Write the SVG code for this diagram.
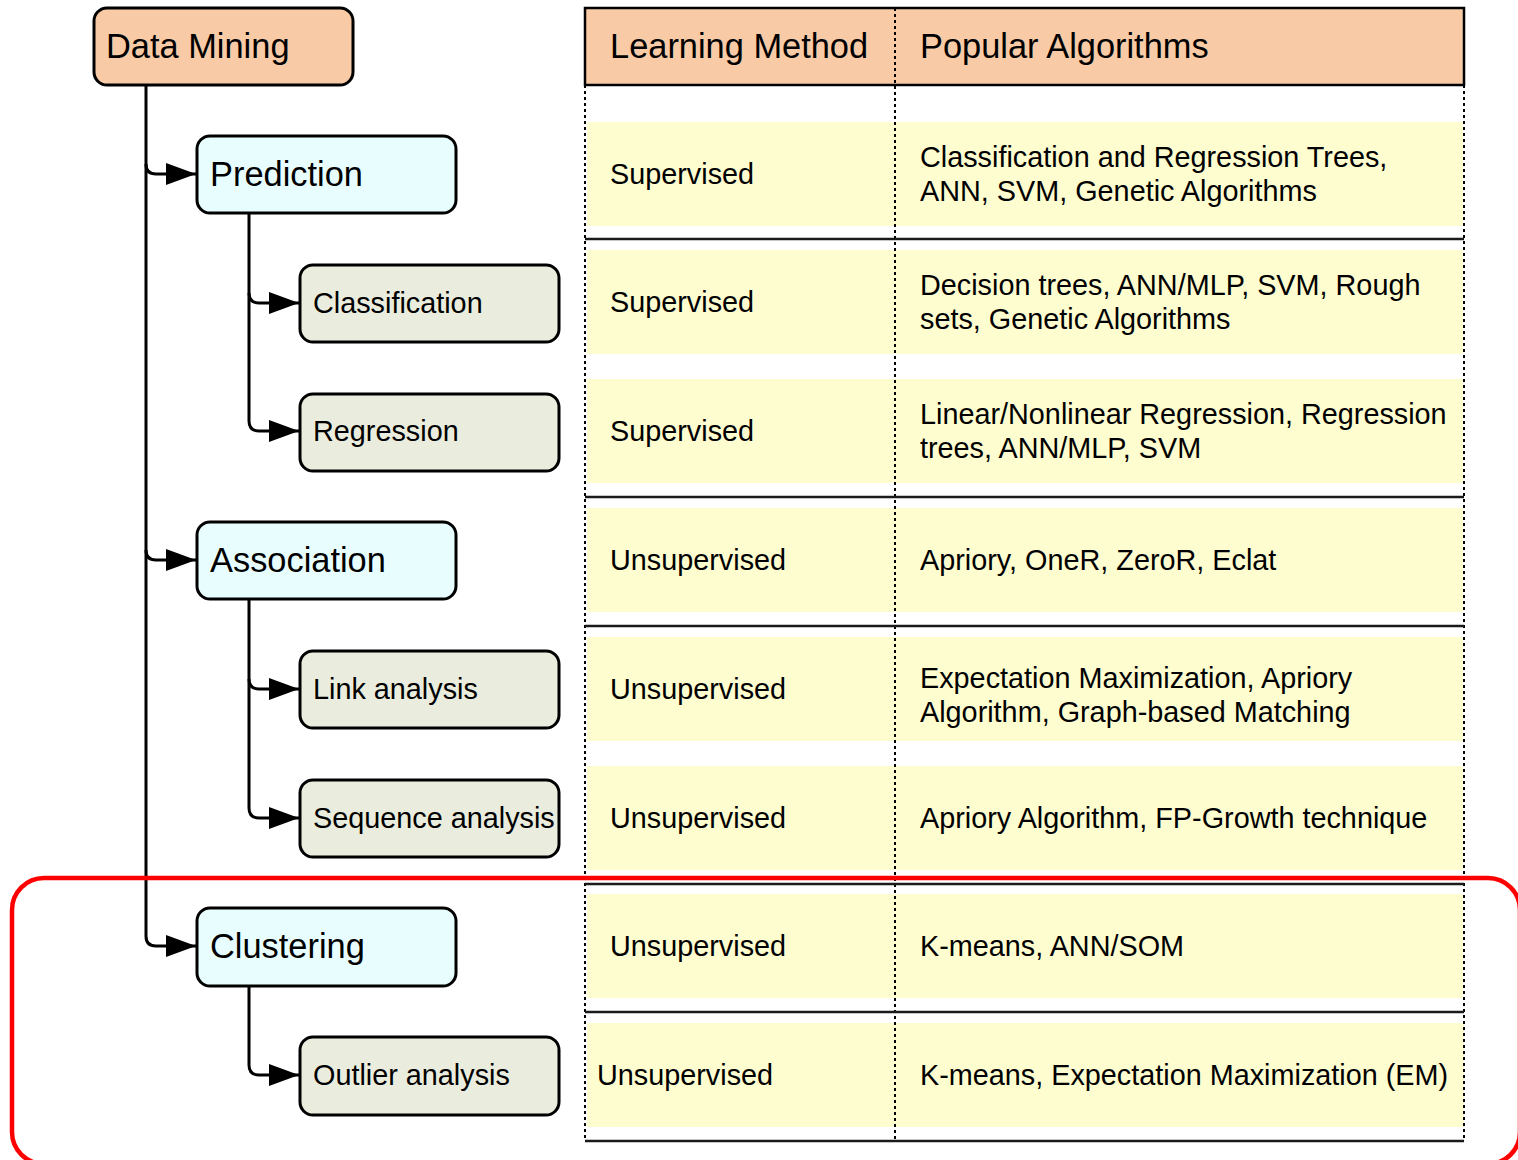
<svg xmlns="http://www.w3.org/2000/svg" width="1518" height="1160" viewBox="0 0 1518 1160">
<style>
text{font-family:"Liberation Sans",Arial,sans-serif;fill:#000}
.big{font-size:34.4px}
.mid{font-size:28.8px}
.node{stroke:#000;stroke-width:3}
.root{fill:#f8cba6}
.l1{fill:#e8fefe}
.l2{fill:#eaeddd}
.conn{fill:none;stroke:#000;stroke-width:3}
.band{fill:#fefdd0}
.dot{stroke:#000;stroke-width:2;stroke-dasharray:3 3;fill:none}
.hl{stroke:#1a1a1a;stroke-width:2.5}
</style>
<defs>
<marker id="arr" markerUnits="userSpaceOnUse" markerWidth="32" markerHeight="24" refX="30" refY="11" orient="auto">
<path d="M0,0 L30,11 L0,22 z" fill="#000"/>
</marker>
</defs>
<rect width="1518" height="1160" fill="#fff"/>

<g id="table">
<rect x="585" y="8" width="879" height="77" fill="#f8cba6" stroke="#000" stroke-width="2.5"/>
<g id="bands">
<rect class="band" x="587" y="122" width="876" height="104"/>
<rect class="band" x="587" y="250" width="876" height="104"/>
<rect class="band" x="587" y="379" width="876" height="104"/>
<rect class="band" x="587" y="508" width="876" height="104"/>
<rect class="band" x="587" y="637" width="876" height="104"/>
<rect class="band" x="587" y="766" width="876" height="104"/>
<rect class="band" x="587" y="894" width="876" height="104"/>
<rect class="band" x="587" y="1023" width="877" height="104"/>
</g>
<line class="dot" x1="585" y1="85" x2="585" y2="1141"/>
<line class="dot" x1="895" y1="8" x2="895" y2="1141"/>
<line class="dot" x1="1464" y1="85" x2="1464" y2="1141"/>
<line class="hl" x1="585" y1="239" x2="1464" y2="239"/>
<line class="hl" x1="585" y1="497" x2="1464" y2="497"/>
<line class="hl" x1="585" y1="626" x2="1464" y2="626"/>
<line class="hl" x1="585" y1="884" x2="1464" y2="884"/>
<line class="hl" x1="585" y1="1012" x2="1464" y2="1012"/>
<line class="hl" x1="585" y1="1141" x2="1464" y2="1141"/>
<text class="big" x="610" y="58">Learning Method</text>
<text class="big" x="920" y="58">Popular Algorithms</text>

<text class="mid" x="610" y="184">Supervised</text>
<text class="mid" x="920" y="167">Classification and Regression Trees,</text>
<text class="mid" x="920" y="201">ANN, SVM, Genetic Algorithms</text>

<text class="mid" x="610" y="312">Supervised</text>
<text class="mid" x="920" y="295">Decision trees, ANN/MLP, SVM, Rough</text>
<text class="mid" x="920" y="329">sets, Genetic Algorithms</text>

<text class="mid" x="610" y="441">Supervised</text>
<text class="mid" x="920" y="424">Linear/Nonlinear Regression, Regression</text>
<text class="mid" x="920" y="458">trees, ANN/MLP, SVM</text>

<text class="mid" x="610" y="570">Unsupervised</text>
<text class="mid" x="920" y="570">Apriory, OneR, ZeroR, Eclat</text>

<text class="mid" x="610" y="699">Unsupervised</text>
<text class="mid" x="920" y="688">Expectation Maximization, Apriory</text>
<text class="mid" x="920" y="722">Algorithm, Graph-based Matching</text>

<text class="mid" x="610" y="828">Unsupervised</text>
<text class="mid" x="920" y="828">Apriory Algorithm, FP-Growth technique</text>

<text class="mid" x="610" y="956">Unsupervised</text>
<text class="mid" x="920" y="956">K-means, ANN/SOM</text>

<text class="mid" x="597" y="1085">Unsupervised</text>
<text class="mid" x="920" y="1085">K-means, Expectation Maximization (EM)</text>
</g>

<g id="connectors">
<path class="conn" d="M146,85 V936 Q146,946 156,946 H196" marker-end="url(#arr)"/>
<path class="conn" d="M146,164 Q146,174 156,174 H196" marker-end="url(#arr)"/>
<path class="conn" d="M146,550 Q146,560 156,560 H196" marker-end="url(#arr)"/>
<path class="conn" d="M249,213 V421 Q249,431 259,431 H299" marker-end="url(#arr)"/>
<path class="conn" d="M249,293 Q249,303 259,303 H299" marker-end="url(#arr)"/>
<path class="conn" d="M249,599 V808 Q249,818 259,818 H299" marker-end="url(#arr)"/>
<path class="conn" d="M249,679 Q249,689 259,689 H299" marker-end="url(#arr)"/>
<path class="conn" d="M249,985 V1065 Q249,1075 259,1075 H299" marker-end="url(#arr)"/>
</g>

<g id="n-datamining"><rect class="node root" x="94" y="8" width="259" height="77" rx="13"/><text class="big" x="106" y="58">Data Mining</text></g>
<g id="n-prediction"><rect class="node l1" x="197" y="136" width="259" height="77" rx="13"/><text class="big" x="210" y="186">Prediction</text></g>
<g id="n-classification"><rect class="node l2" x="300" y="265" width="259" height="77" rx="13"/><text class="mid" x="313" y="313">Classification</text></g>
<g id="n-regression"><rect class="node l2" x="300" y="394" width="259" height="77" rx="13"/><text class="mid" x="313" y="441">Regression</text></g>
<g id="n-association"><rect class="node l1" x="197" y="522" width="259" height="77" rx="13"/><text class="big" x="210" y="572">Association</text></g>
<g id="n-link"><rect class="node l2" x="300" y="651" width="259" height="77" rx="13"/><text class="mid" x="313" y="699">Link analysis</text></g>
<g id="n-sequence"><rect class="node l2" x="300" y="780" width="259" height="77" rx="13"/><text class="mid" x="313" y="828">Sequence analysis</text></g>
<g id="n-clustering"><rect class="node l1" x="197" y="908" width="259" height="78" rx="13"/><text class="big" x="210" y="958">Clustering</text></g>
<g id="n-outlier"><rect class="node l2" x="300" y="1037" width="259" height="78" rx="13"/><text class="mid" x="313" y="1085">Outlier analysis</text></g>

<rect id="highlight" x="12" y="878" width="1508" height="286" rx="32" fill="none" stroke="#f00" stroke-width="4.5"/>
</svg>
